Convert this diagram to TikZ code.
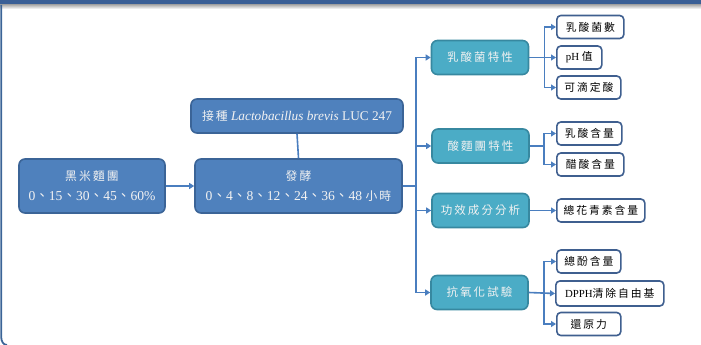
\documentclass[tikz,border=0pt]{standalone}
\usepackage{fontspec}
\setmainfont{Liberation Serif}
\newfontfamily\cjk[LetterSpace=18]{Noto Sans CJK TC}
\newfontfamily\cjkn{Noto Sans CJK TC}
\newcommand{\cjs}[1]{{\fontsize{11.8}{14}\selectfont\cjk #1}}
\usetikzlibrary{arrows.meta}
\definecolor{bandblue}{HTML}{3A5F96}
\definecolor{bluefill}{HTML}{4F81BD}
\definecolor{blueline}{HTML}{3B6497}
\definecolor{tealfill}{HTML}{4BACC6}
\definecolor{tealline}{HTML}{3788A0}
\definecolor{leafline}{HTML}{3F5F8F}
\definecolor{conn}{HTML}{4A7EBF}
\definecolor{lighttext}{HTML}{F2F2F2}
\tikzset{
  mainbox/.style={draw=blueline, fill=bluefill, line width=1.6pt, rounded corners=6pt,
    text=lighttext, align=center, inner sep=0pt},
  tealbox/.style={draw=tealline, fill=tealfill, line width=1.6pt, rounded corners=6pt,
    text=lighttext, minimum width=97pt, minimum height=34pt, inner sep=0pt,
    font=\fontsize{11.5}{14}\selectfont},
  leaf/.style={draw=leafline, fill=white, line width=1.6pt, rounded corners=4pt,
    text=black, anchor=west, minimum height=23pt, inner sep=0pt,
    font=\fontsize{10.8}{13}\selectfont},
  conline/.style={draw=conn, line width=1.6pt},
  arr/.style={conline, -{Triangle[length=5pt,width=6pt]}}
}
\begin{document}
\begin{tikzpicture}[x=1pt,y=-1pt]
\useasboundingbox (0,0) rectangle (701,345);
\fill[bandblue] (0,0) rectangle (701,5);
\shade[top color=black!30, bottom color=white] (0,5) rectangle (701,9);
\draw[blueline, line width=1.8pt] (1.2,5) -- (1.2,337) to[out=-90,in=180] (7,345);

\node[mainbox, minimum width=146pt, minimum height=54pt,
  font=\fontsize{13.6}{20}\selectfont] (dough) at (92,186)
  {\cjs{黑米麵團}\\0{\cjkn 、}15{\cjkn 、}30{\cjkn 、}45{\cjkn 、}60\%};
\node[mainbox, minimum width=207pt, minimum height=54pt,
  font=\fontsize{13.6}{20}\selectfont] (ferm) at (298.5,186)
  {\cjs{發酵}\\0{\cjkn 、}4{\cjkn 、}8{\cjkn 、}12{\cjkn 、}24{\cjkn 、}36{\cjkn 、}48 \cjs{小時}};
\node[mainbox, minimum width=212pt, minimum height=34pt,
  font=\fontsize{13.3}{15}\selectfont] (inoc) at (297,116)
  {\cjs{接種} \textit{Lactobacillus brevis} LUC 247};

\node[tealbox] (lab)  at (480,57.5)  {\cjk 乳酸菌特性};
\node[tealbox] (sour) at (480.5,146) {\cjk 酸麵團特性};
\node[tealbox] (func) at (480.5,210.5) {\cjk 功效成分分析};
\node[tealbox] (anti) at (479.5,292.5) {\cjk 抗氧化試驗};

\node[leaf, minimum width=67pt] (l1) at (556,27) {\cjk 乳酸菌數};
\node[leaf, minimum width=45pt] (l2) at (556,57.5) {pH {\cjk 值}};
\node[leaf, minimum width=64pt] (l3) at (556,87.5) {\cjk 可滴定酸};
\node[leaf, minimum width=65pt] (s1) at (556,133.5) {\cjk 乳酸含量};
\node[leaf, minimum width=67pt] (s2) at (556,164.5) {\cjk 醋酸含量};
\node[leaf, minimum width=88pt] (f1) at (556,210.5) {\cjk 總花青素含量};
\node[leaf, minimum width=64pt] (a1) at (556,261.5) {\cjk 總酚含量};
\node[leaf, minimum width=108pt, minimum height=25pt] (a2) at (555,293.5) {DPPH{\cjk 清除自由基}};
\node[leaf, minimum width=64pt] (a3) at (556,324) {\cjk 還原力};

\coordinate (trunk) at (416,186);
\draw[arr] (dough.east) -- (ferm.west);
\draw[conline] (inoc.south) -- (ferm.north);
\draw[conline] (ferm.east) -- (trunk);
\draw[arr] (trunk) |- (lab.west);
\draw[arr] (trunk) |- (sour.west);
\draw[arr] (trunk) |- (func.west);
\draw[arr] (trunk) |- (anti.west);

\draw[arr] (lab.east) -- ++(15,0) |- (l1.west);
\draw[arr] (lab.east) -- (l2.west);
\draw[arr] (lab.east) -- ++(15,0) |- (l3.west);
\draw[arr] (sour.east) -- ++(14,0) |- (s1.west);
\draw[arr] (sour.east) -- ++(14,0) |- (s2.west);
\draw[arr] (func.east) -- (func.east -| f1.west);
\draw[arr] (anti.east) -- ++(15,0) |- (a1.west);
\draw[arr] (anti.east) -- (a2.west);
\draw[arr] (anti.east) -- ++(15,0) |- (a3.west);
\end{tikzpicture}
\end{document}
